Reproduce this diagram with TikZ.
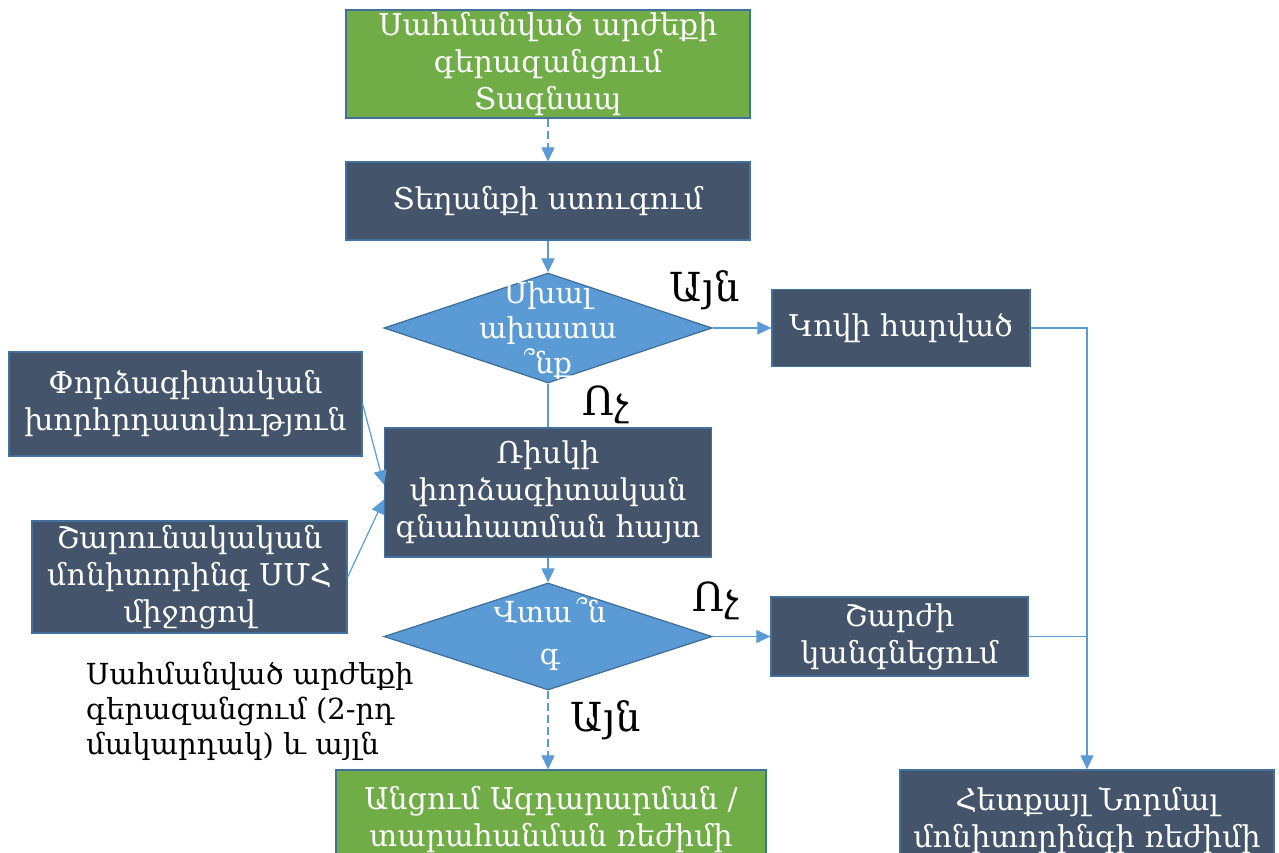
\documentclass[tikz,border=0pt]{standalone}
\usepackage{fontspec}
\setmainfont{DejaVu Serif}
\usetikzlibrary{arrows.meta,shapes.geometric}
\definecolor{greenfill}{HTML}{70AD47}
\definecolor{darkfill}{HTML}{44546A}
\definecolor{bluefill}{HTML}{5B9BD5}
\definecolor{edgeblue}{HTML}{41719C}
\definecolor{linkblue}{HTML}{5B9BD5}
\tikzset{
  box/.style={draw=edgeblue, line width=1.3pt, text=white, align=center,
    inner sep=0pt, font=\fontsize{30}{37}\selectfont},
  darkbox/.style={box, fill=darkfill},
  greenbox/.style={box, fill=greenfill},
  decision/.style={diamond, draw=edgeblue, line width=1.3pt, fill=bluefill, inner sep=0pt},
  dtext/.style={text=white, align=center, inner sep=0pt, font=\fontsize{29}{35}\selectfont},
  answer/.style={text=black, inner sep=0pt, font=\fontsize{40}{44}\selectfont},
  link/.style={draw=linkblue, line width=1.2pt},
  arrow/.style={link, -{Triangle[length=14pt,width=13pt]}},
  dasharrow/.style={arrow, dash pattern=on 8pt off 4pt},
}
\begin{document}
\begin{tikzpicture}[x=1pt,y=-1pt]
\useasboundingbox (0,0) rectangle (1279,852);
\clip (0,0) rectangle (1279,852);

% main column
\node[greenbox, minimum width=404pt, minimum height=108pt] (alarm) at (548,64)
  {Սահմանված արժեքի\\գերազանցում\\Տագնապ};
\node[darkbox, minimum width=404pt, minimum height=78pt] (check) at (548,201)
  {Տեղանքի ստուգում};
\node[decision, minimum width=328pt, minimum height=110pt] (false) at (548,328) {};
\node[dtext] (falsetext) at (548,330) {Սխալ\\ախատա\\՞նք};
\node[darkbox, minimum width=327pt, minimum height=129pt] (risk) at (548,492.5)
  {Ռիսկի\\փորձագիտական\\գնահատման հայտ};
\node[decision, minimum width=328pt, minimum height=107pt] (danger) at (548,636.5) {};
\node[dtext, font=\fontsize{29}{42}\selectfont] (dangertext) at (550,634) {Վտա\,՞ն\\գ};
\node[greenbox, minimum width=430pt, minimum height=100pt] (evac) at (551,820)
  {Անցում Ազդարարման /\\տարահանման ռեժիմի};

% inputs on the left
\node[darkbox, minimum width=353pt, minimum height=104pt] (expert) at (185.5,404)
  {Փորձագիտական\\խորհրդատվություն};
\node[darkbox, minimum width=315pt, minimum height=112pt] (monitor) at (189.5,577)
  {Շարունակական\\մոնիտորինգ ՍՄՀ\\միջոցով};

% right column
\node[darkbox, minimum width=258pt, minimum height=77pt] (hit) at (901,328)
  {Կովի հարված};
\node[darkbox, minimum width=257pt, minimum height=79pt] (stop) at (899.5,636.5)
  {Շարժի\\կանգնեցում};
\node[darkbox, minimum width=374pt, minimum height=100pt] (back) at (1087,820)
  {Հետքայլ Նորմալ\\մոնիտորինգի ռեժիմի};

% free note
\node[text=black, align=left, anchor=north west, inner sep=0pt,
  font=\fontsize{29}{35}\selectfont] (note) at (86,662)
  {Սահմանված արժեքի\\գերազանցում (2-րդ\\մակարդակ) և այլն};

% answer labels
\node[answer] (yes1) at (705,290) {Այն};
\node[answer] (no1) at (606,405) {Ոչ};
\node[answer] (no2) at (716,601) {Ոչ};
\node[answer] (yes2) at (606,720) {Այն};

% connectors
\draw[dasharrow] (alarm.south) -- (check.north);
\draw[arrow] (check.south) -- (false.north);
\draw[arrow] (false.east) -- (hit.west);
\draw[link] (false.south) -- (risk.north);
\draw[arrow] (expert.east) -- ([yshift=8pt]risk.west);
\draw[arrow] (monitor.east) -- ([yshift=-7pt]risk.west);
\draw[arrow] (risk.south) -- (danger.north);
\draw[arrow] (danger.east) -- (stop.west);
\draw[dasharrow] (danger.south) -- (danger.south |- evac.north);
\draw[arrow] (hit.east) -| (back.north);
\draw[link] (stop.east) -- (stop.east -| back.north);
\end{tikzpicture}
\end{document}
